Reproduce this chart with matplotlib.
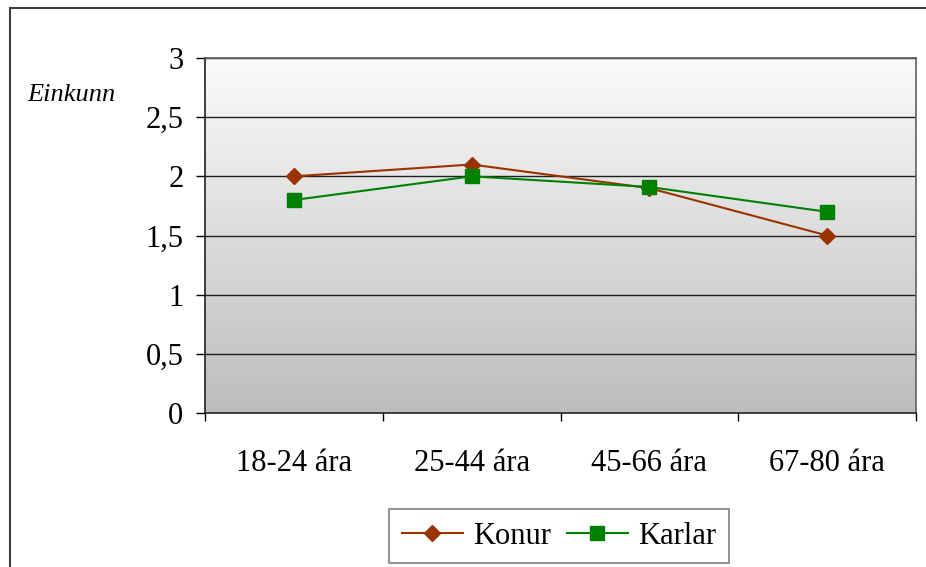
import matplotlib.pyplot as plt
import numpy as np
from matplotlib.patches import Rectangle
from matplotlib.colors import LinearSegmentedColormap
from matplotlib.ticker import FuncFormatter

categories = ["18-24 ára", "25-44 ára", "45-66 ára", "67-80 ára"]
konur = [2.0, 2.1, 1.9, 1.5]
karlar = [1.8, 2.0, 1.91, 1.7]
y_ticks = [0, 0.5, 1, 1.5, 2, 2.5, 3]

plt.rcParams["font.family"] = ["Liberation Serif", "DejaVu Serif"]

fig = plt.figure(figsize=(9.26, 5.67), dpi=100)
W, H = 926, 567
ax = fig.add_axes([205 / W, 1 - 413 / H, (916 - 205) / W, (413 - 58) / H])

# outer chart frame
fig.patches.append(Rectangle((10 / W, -0.05), 1.2, 1 - 8 / H + 0.05, transform=fig.transFigure,
                             fill=False, edgecolor="#404040", linewidth=1.5))

# gradient background of plot area
grad = np.linspace(0, 1, 256).reshape(-1, 1)
bg_cmap = LinearSegmentedColormap.from_list("bg", ["#fbfbfb", "#bdbdbd"])
ax.imshow(grad, extent=(-0.5, 3.5, 0, 3), aspect="auto", cmap=bg_cmap, origin="upper", zorder=0)

x = np.arange(len(categories))
for y in y_ticks[1:]:
    ax.axhline(y, color="#202020", linewidth=1, zorder=1)

ax.plot(x, konur, color="#993300", marker="D", markersize=8.5, linewidth=1.5, label="Konur", zorder=3)
ax.plot(x, karlar, color="#008000", marker="s", markersize=9.5, linewidth=1.5, label="Karlar", zorder=3)

ax.set_xlim(-0.5, 3.5)
ax.set_ylim(0, 3)
ax.set_yticks(y_ticks)
ax.yaxis.set_major_formatter(FuncFormatter(lambda v, p: f"{v:g}".replace(".", ",")))
ax.set_xticks(x)
ax.set_xticklabels(categories)
ax.set_xticks(np.arange(-0.5, 4), minor=True)
ax.tick_params(axis="x", which="major", length=0, labelsize=22, pad=26)
ax.tick_params(axis="x", which="minor", length=6, width=1)
ax.tick_params(axis="y", length=6.5, width=1, labelsize=22, pad=9)

for side in ["left", "bottom"]:
    ax.spines[side].set_color("#202020")
    ax.spines[side].set_linewidth(1.2)
for side in ["top", "right"]:
    ax.spines[side].set_color("#606060")
    ax.spines[side].set_linewidth(1.2)

fig.text(27 / W, 1 - 95 / H, "Einkunn", style="italic", fontsize=19, va="center", ha="left")

leg = fig.legend(loc="center", bbox_to_anchor=(559 / W, 1 - 536 / H), ncol=2, frameon=True,
                 fancybox=False, fontsize=22, handlelength=2.0, columnspacing=0.5,
                 handletextpad=0.35, borderpad=0.4, borderaxespad=0)
leg.get_frame().set_edgecolor("#606060")
leg.get_frame().set_linewidth(1.2)

fig.savefig("out.png", dpi=100)
